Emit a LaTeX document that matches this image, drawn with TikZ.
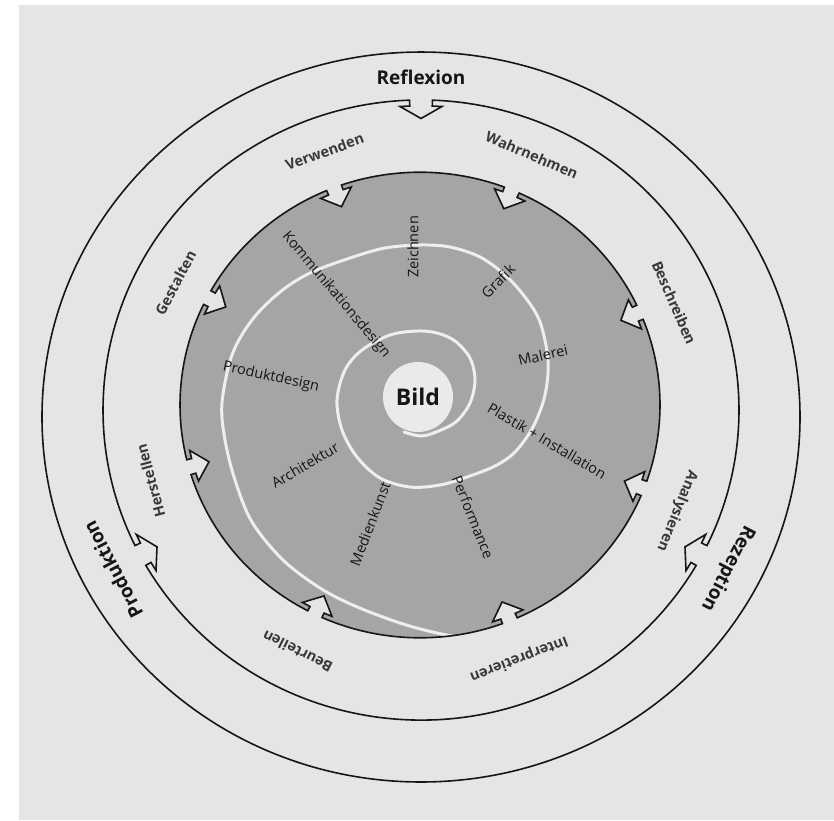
\documentclass[tikz,border=0pt]{standalone}
\usepackage{fontspec}
\setmainfont{Open Sans}
\definecolor{paper}{RGB}{229,229,229}
\definecolor{diskgray}{RGB}{165,165,165}
\definecolor{spiralc}{RGB}{238,238,238}
\definecolor{bildc}{RGB}{234,234,234}
\definecolor{inkc}{RGB}{22,22,22}
\tikzset{
  ringline/.style={draw=inkc, line width=1.6pt, line join=miter},
  outerlabel/.style={font=\bfseries\fontsize{19}{22}\selectfont, text=inkc, inner sep=0pt},
  midlabel/.style={font=\bfseries\fontsize{14.5}{17}\selectfont, text=inkc!85!white, inner sep=0pt},
  innerlabel/.style={font=\fontsize{14.5}{17}\selectfont, text=inkc, inner sep=0pt},
  spiralline/.style={draw=spiralc, line width=3pt, line cap=round},
}
\newcommand\mydiskpath{(-162.6:240) arc[start angle=-162.6, end angle=-117.9, radius=240]
 -- (-117.9:235) -- (-120:235) -- (-116:219) -- (-112:235) -- (-114.1:235) -- (-114.1:240)
 arc[start angle=-114.1, end angle=-69.9, radius=240]
 -- (-69.9:235) -- (-72:235) -- (-68:219) -- (-64:235) -- (-66.1:235) -- (-66.1:240)
 arc[start angle=-66.1, end angle=-22.9, radius=240]
 -- (-22.9:235) -- (-25:235) -- (-21:219) -- (-17:235) -- (-19.1:235) -- (-19.1:240)
 arc[start angle=-19.1, end angle=21.6, radius=240]
 -- (21.6:235) -- (19.5:235) -- (23.5:219) -- (27.5:235) -- (25.4:235) -- (25.4:240)
 arc[start angle=25.4, end angle=65.6, radius=240]
 -- (65.6:235) -- (63.5:235) -- (67.5:219) -- (71.5:235) -- (69.4:235) -- (69.4:240)
 arc[start angle=69.4, end angle=109.1, radius=240]
 -- (109.1:235) -- (107:235) -- (111:219) -- (115:235) -- (112.9:235) -- (112.9:240)
 arc[start angle=112.9, end angle=150.6, radius=240]
 -- (150.6:235) -- (148.5:235) -- (152.5:219) -- (156.5:235) -- (154.4:235) -- (154.4:240)
 arc[start angle=154.4, end angle=193.6, radius=240]
 -- (193.6:235) -- (191.5:235) -- (195.5:219) -- (199.5:235) -- (197.4:235) -- cycle}
\begin{document}
\begin{tikzpicture}[x=1pt,y=1pt]
\useasboundingbox (0,0) rectangle (834,-820);
\fill[white] (0,0) rectangle (834,-820);
\fill[paper] (19,-5) rectangle (834,-820);

% outer circle
\draw[ringline, shift={(421,-417)}, yscale=0.963] (0,0) circle[radius=379];

% middle ring with three inward arrows
\draw[ringline, shift={(421,-410)}, yscale=0.975]
 (92.07:318) arc[start angle=92.07, end angle=205.93, radius=318]
 -- (205.93:312) -- (204.14:312) -- (208:299) -- (211.86:312) -- (210.07:312) -- (210.07:318)
 arc[start angle=210.07, end angle=329.93, radius=318]
 -- (329.93:312) -- (328.14:312) -- (332:299) -- (335.86:312) -- (334.07:312) -- (334.07:318)
 arc[start angle=334.07, end angle=447.93, radius=318]
 -- (447.93:312) -- (446.14:312) -- (450:299) -- (453.86:312) -- (452.07:312) -- cycle;

% inner grey disk
\fill[diskgray, shift={(420,-405)}, yscale=0.97] \mydiskpath;

% spiral
\begin{scope}
\clip[shift={(420,-405)}, yscale=0.97] \mydiskpath;
\draw[spiralline] plot[smooth, tension=0.55] coordinates {
 (404,-432) (422,-436) (441,-430) (457,-421) (470,-403) (475,-380) (470,-358)
 (455,-341) (437,-333) (417,-331) (390,-335) (362,-350) (345,-370) (337,-400)
 (342,-430) (357,-457) (380,-478) (410,-487) (440,-485) (467,-477) (495,-466)
 (515,-452) (533,-427) (545,-395) (548,-360) (540,-322) (525,-297) (505,-275)
 (480,-257) (450,-247) (420,-245) (385,-248) (350,-258) (310,-273) (280,-292)
 (252,-320) (232,-355) (222,-403) (225,-440) (235,-480) (252,-522) (283,-560)
 (320,-588) (355,-606) (400,-623) (437,-633) (475,-640) (510,-645)};
\end{scope}
\draw[ringline, shift={(420,-405)}, yscale=0.97] \mydiskpath;

% centre
\fill[bildc] (418,-397) circle[radius=35];
\node[font=\bfseries\fontsize{23}{26}\selectfont, text=inkc, inner sep=0pt] (bild) at (418,-397) {Bild};

% outer labels
\begin{scope}[shift={(421,-413)}, yscale=0.968]
\node[outerlabel] (reflexion) at (90:347) {Reflexion};
\node[outerlabel, rotate=-117.6] (rezeption) at (-27.6:346) {Rezeption};
\node[outerlabel, rotate=117.7] (produktion) at (207.7:348) {Produktion};
\end{scope}

% middle labels
\begin{scope}[shift={(421,-410)}, yscale=0.975]
\node[midlabel, rotate=20] (verwenden) at (110:282) {Verwenden};
\node[midlabel, rotate=-23] (wahrnehmen) at (67:284) {Wahrnehmen};
\node[midlabel, rotate=-66.5] (beschreiben) at (23.5:276) {Beschreiben};
\node[midlabel, rotate=-112] (analysieren) at (-22:276) {Analysieren};
\node[midlabel, rotate=-159] (interpretieren) at (-69:273) {Interpretieren};
\node[midlabel, rotate=153.5] (beurteilen) at (-116.5:277) {Beurteilen};
\node[midlabel, rotate=105] (herstellen) at (-165:280) {Herstellen};
\node[midlabel, rotate=62] (gestalten) at (152:278) {Gestalten};
\end{scope}

% inner labels
\node[innerlabel, rotate=90] (zeichnen) at (413,-247) {Zeichnen};
\node[innerlabel, rotate=45] (grafik) at (498,-281) {Grafik};
\node[innerlabel, rotate=13] (malerei) at (543,-355) {Malerei};
\node[innerlabel, rotate=-30.5] (plastik) at (547,-441) {Plastik + Installation};
\node[innerlabel, rotate=-68] (performance) at (473,-517) {Performance};
\node[innerlabel, rotate=69] (medienkunst) at (370,-524) {Medienkunst};
\node[innerlabel, rotate=30.5] (architektur) at (305,-465) {Architektur};
\node[innerlabel, rotate=-12] (produktdesign) at (271,-377) {Produktdesign};
\node[innerlabel, rotate=-50] (kommunikation) at (336,-295) {Kommunikationsdesign};
\end{tikzpicture}
\end{document}
